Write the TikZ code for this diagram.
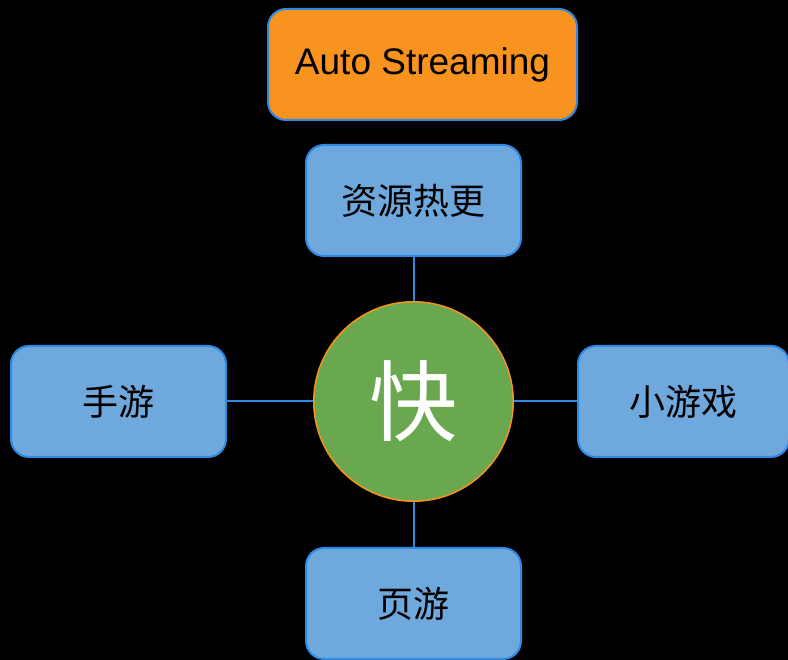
\documentclass[tikz,border=0pt]{standalone}
\usepackage{fontspec}
\setmainfont{Liberation Sans}
\newfontfamily\cjk{Noto Sans CJK SC}
\usetikzlibrary{positioning}
\definecolor{boxblue}{RGB}{111,168,220}
\definecolor{edgeblue}{RGB}{46,137,228}
\definecolor{streamorange}{RGB}{247,147,30}
\definecolor{fastgreen}{RGB}{106,168,79}
\tikzset{
    topic/.style={draw=edgeblue, line width=2pt, fill=boxblue, rounded corners=18pt, minimum width=215pt, minimum height=111pt, font=\cjk\fontsize{36}{40}\selectfont, text=black},
    banner/.style={topic, fill=streamorange, minimum width=309pt, font=\fontsize{37}{42}\selectfont},
    hub/.style={draw=streamorange, line width=1.5pt, fill=fastgreen, circle, minimum size=199.5pt, inner sep=0pt, font=\cjk\fontsize{88}{96}\selectfont, text=white},
    link/.style={edgeblue, line width=2pt}
}

\begin{document}
\begin{tikzpicture}[x=1pt, y=1pt]
    \useasboundingbox (0,0) rectangle (788,660);
    \fill[black] (0,0) rectangle (788,660);

    \node[hub] (fast) at (413.5,258.5) {快};
    \node[topic, above=44pt of fast] (hotfix) {资源热更};
    \node[banner, above=23pt of hotfix, xshift=9pt] (stream) {Auto Streaming};
    \node[topic, left=86pt of fast] (mobile) {手游};
    \node[topic, right=63pt of fast, minimum width=211pt] (mini) {小游戏};
    \node[topic, below=45pt of fast] (web) {页游};

    % spokes from the hub
    \draw[link] (fast) -- (hotfix);
    \draw[link] (fast) -- (mobile);
    \draw[link] (fast) -- (mini);
    \draw[link] (fast) -- (web);
\end{tikzpicture}
\end{document}
